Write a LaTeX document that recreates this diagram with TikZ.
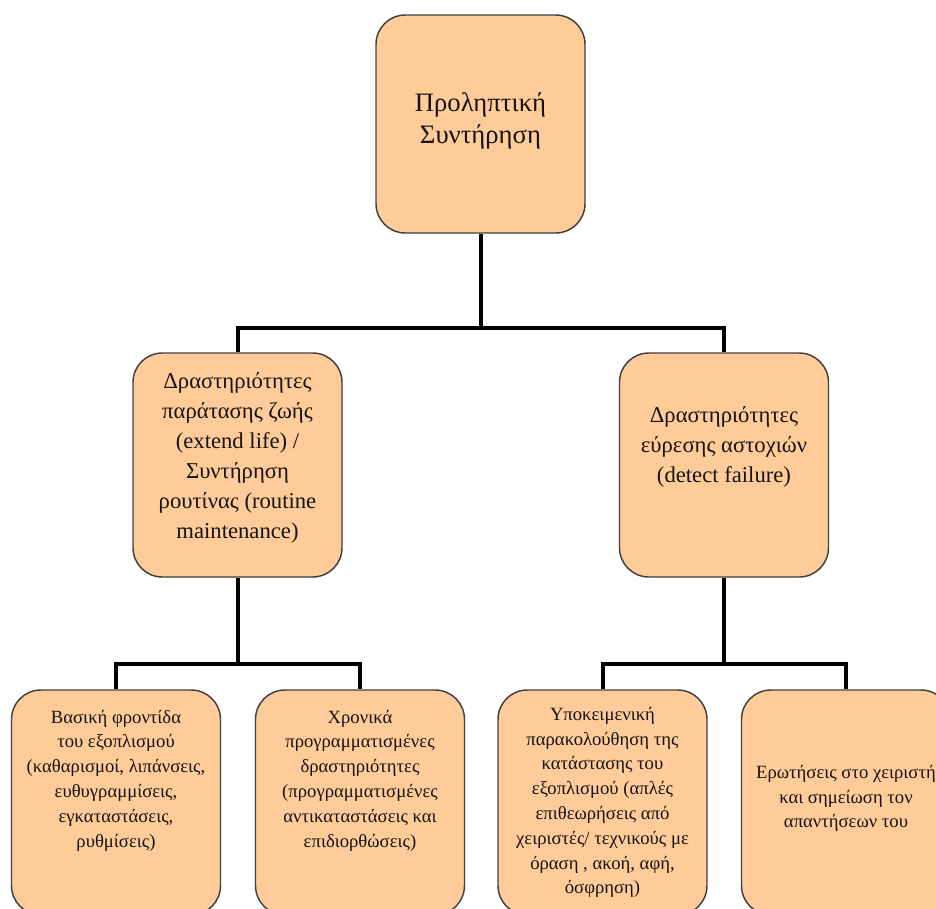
\documentclass[tikz,border=0pt]{standalone}
\usepackage{fontspec}
\setmainfont{Liberation Serif}

\tikzset{every picture/.style={line width=0.75pt}}
\tikzset{
	box/.style={draw={rgb, 255:red, 64; green, 64; blue, 64}, fill={rgb, 255:red, 255; green, 204; blue, 153}, line width=1.1pt, rounded corners=22pt, minimum width=156.75pt, inner sep=0pt},
	txt/.style={align=center, inner sep=0pt, text={rgb, 255:red, 20; green, 20; blue, 20}},
	conn/.style={line width=3pt, draw=black},
	big/.style={font=\fontsize{20}{24}\selectfont},
	mid/.style={font=\fontsize{17}{22.5}\selectfont},
	small/.style={font=\fontsize{14}{18.6}\selectfont},
}

\begin{document}
\begin{tikzpicture}[x=0.75pt,y=0.75pt,yscale=-1,xscale=1]
	\clip (0,0) rectangle (936,908);

	%Shape: Rounded Rectangle [top]
	\node[box, minimum height=163.5pt] (prev) at (480.5,124) {};
	%Shape: Rounded Rectangle [middle]
	\node[box, minimum height=168pt] (life) at (237.5,465) {};
	\node[box, minimum height=168pt] (fail) at (724,465) {};
	%Shape: Rounded Rectangle [bottom]
	\node[box, minimum height=168.75pt] (care) at (116,802.5) {};
	\node[box, minimum height=168.75pt] (sched) at (360,802.5) {};
	\node[box, minimum height=168.75pt] (watch) at (602.5,802.5) {};
	\node[box, minimum height=168.75pt] (ask) at (846,802.5) {};

	%Straight Lines [tree]
	\draw[conn] (prev.south) -- ++(0,94) -| (life.north);
	\draw[conn] (prev.south) -- ++(0,94) -| (fail.north);
	\draw[conn] (life.south) -- ++(0,86) -| (care.north);
	\draw[conn] (life.south) -- ++(0,86) -| (sched.north);
	\draw[conn] (fail.south) -- ++(0,86) -| (watch.north);
	\draw[conn] (fail.south) -- ++(0,86) -| (ask.north);

	% Text Node
	\node[txt, big] (prevtxt) at ([yshift=-2pt]prev.center) {Προληπτική\\Συντήρηση};
	% Text Node
	\node[txt, mid] (lifetxt) at ([yshift=-5pt]life.center) {Δραστηριότητες\\παράτασης ζωής\\(extend life) /\\Συντήρηση\\ρουτίνας (routine\\maintenance)};
	% Text Node
	\node[txt, mid] (failtxt) at ([yshift=-13.5pt]fail.center) {Δραστηριότητες\\εύρεσης αστοχιών\\(detect failure)};
	% Text Node
	\node[txt, small] (caretxt) at ([yshift=-16.5pt]care.center) {Βασική φροντίδα\\του εξοπλισμού\\(καθαρισμοί, λιπάνσεις,\\ευθυγραμμίσεις,\\εγκαταστάσεις,\\ρυθμίσεις)};
	% Text Node
	\node[txt, small] (schedtxt) at ([yshift=-16.5pt]sched.center) {Χρονικά\\προγραμματισμένες\\δραστηριότητες\\(προγραμματισμένες\\αντικαταστάσεις και\\επιδιορθώσεις)};
	% Text Node
	\node[txt, small] (watchtxt) at (watch.center) {Υποκειμενική\\παρακολούθηση της\\κατάστασης του\\εξοπλισμού (απλές\\επιθεωρήσεις από\\χειριστές/ τεχνικούς με\\όραση , ακοή, αφή,\\όσφρηση)};
	% Text Node
	\node[txt, small] (asktxt) at ([yshift=-3pt]ask.center) {Ερωτήσεις στο χειριστή\\και σημείωση τον\\απαντήσεων του};

\end{tikzpicture}
\end{document}
